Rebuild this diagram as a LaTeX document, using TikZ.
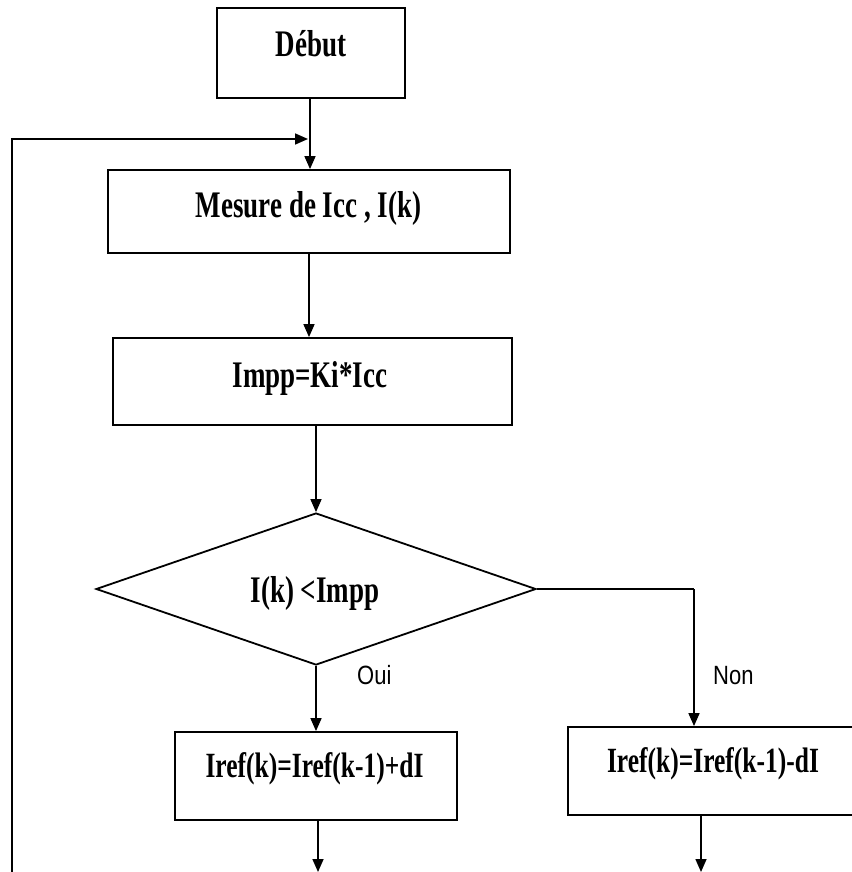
\documentclass[tikz,border=0pt]{standalone}
\usepackage{fontspec}
\usepackage{graphicx}
\setmainfont{Liberation Serif}
\newfontfamily\labelfont{Liberation Sans}
\usetikzlibrary{shapes.geometric,arrows.meta}
\tikzset{
  boxnode/.style={draw, line width=1.8pt, rectangle, inner sep=0pt},
  decnode/.style={draw, line width=1.8pt, diamond, inner sep=0pt},
  txt/.style={anchor=base, inner sep=0pt, font=\fontsize{27}{30}\selectfont\bfseries},
  txtsmall/.style={txt, font=\fontsize{25.5}{30}\selectfont\bfseries},
  lbl/.style={anchor=base west, inner sep=0pt, font=\fontsize{22}{26}\selectfont\labelfont},
  arr/.style={line width=1.6pt, -{Triangle[length=13pt,width=11pt]}},
  ln/.style={line width=1.6pt}
}
\newcommand{\vstretch}[1]{\scalebox{1}[1.39]{#1}}
\newcommand{\lstretch}[1]{\scalebox{1}[1.2]{#1}}
\begin{document}
\begin{tikzpicture}[x=1pt,y=-1pt]
\useasboundingbox (0,0) rectangle (851,872);
% boxes
\node[boxnode, minimum width=188pt, minimum height=90pt] (debut) at (311,53) {};
\node[boxnode, minimum width=402pt, minimum height=83pt] (mesure) at (309,211.5) {};
\node[boxnode, minimum width=399pt, minimum height=87pt] (impp) at (312.5,381.5) {};
\node[decnode, minimum width=440pt, minimum height=152pt] (test) at (316,589) {};
\node[boxnode, minimum width=282pt, minimum height=88pt] (plus) at (316,776) {};
\node[boxnode, minimum width=290pt, minimum height=88pt] (moins) at (713,771) {};
% texts
\node[txt] (tdebut) at (311,57) {\vstretch{Début}};
\node[txt] (tmesure) at (308.5,217) {\vstretch{Mesure de Icc , I(k)}};
\node[txt] (timpp) at (310,387) {\vstretch{Impp=Ki*Icc}};
\node[txt] (ttest) at (315,602) {\vstretch{I(k) <Impp}};
\node[txtsmall] (tplus) at (314.5,777) {\vstretch{Iref(k)=Iref(k-1)+dI}};
\node[txtsmall] (tmoins) at (713,772) {\vstretch{Iref(k)=Iref(k-1)-dI}};
\node[lbl] (oui) at (357,684) {\lstretch{Oui}};
\node[lbl] (non) at (713,684) {\lstretch{Non}};
% coordinates
\coordinate (loopbot) at (12,872);
\coordinate (loopcorner) at (12,139);
\coordinate (loopend) at (308,139);
\coordinate (noncorner) at (694,589);
\coordinate (plusout) at (318,872);
\coordinate (moinsout) at (701,872);
% connectors
\draw[arr] (debut.south -| 310,0) -- (mesure.north -| 310,0);
\draw[arr] (loopbot) -- (loopcorner) -- (loopend);
\draw[arr] (mesure.south -| 309,0) -- (impp.north -| 309,0);
\draw[arr] (impp.south -| 316,0) -- (test.north);
\draw[arr] (test.south) -- (plus.north -| test.south);
\draw[ln] (test.east) -- (noncorner);
\draw[arr] (noncorner) -- (moins.north -| noncorner);
\draw[arr] (plus.south -| plusout) -- (plusout);
\draw[arr] (moins.south -| moinsout) -- (moinsout);
\end{tikzpicture}
\end{document}
